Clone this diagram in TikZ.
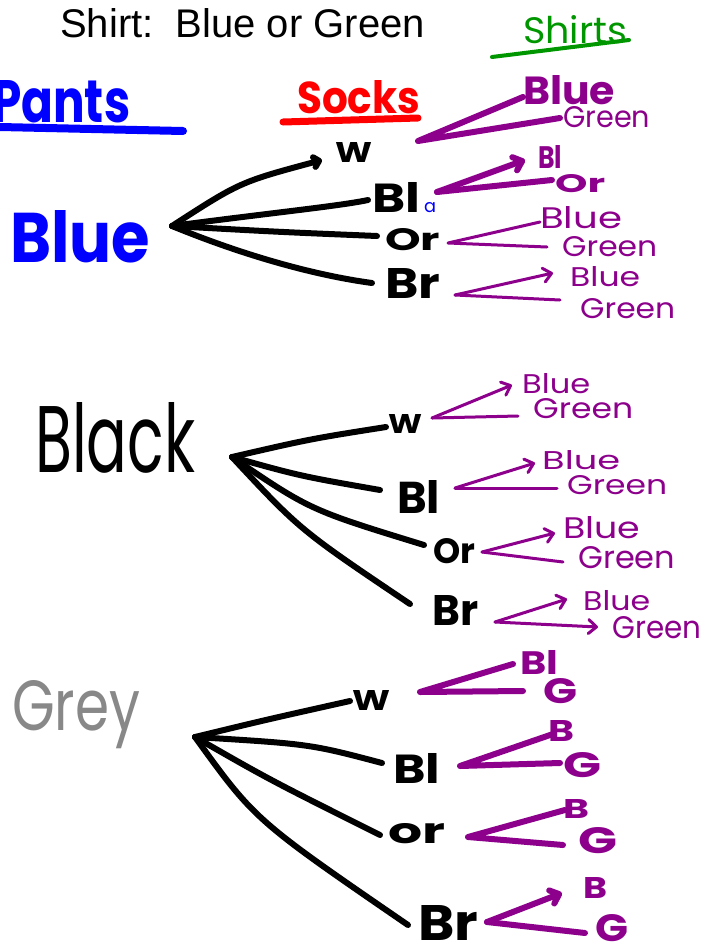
\documentclass[tikz,border=0pt]{standalone}
\usepackage{fontspec}
\usepackage{graphicx}
\usetikzlibrary{arrows.meta}
\newfontfamily\handfont{Poppins}
\newfontfamily\printfont{Liberation Sans}
\definecolor{pantsblue}{RGB}{0,0,255}
\definecolor{socksred}{RGB}{255,0,0}
\definecolor{shirtgreen}{RGB}{0,150,0}
\definecolor{shirtpurple}{RGB}{140,0,140}
\definecolor{pantsgrey}{RGB}{136,136,136}
% scale a piece of handwriting to a given width and height (in pt)
\newcommand\fitbox[3]{\resizebox{#1pt}{#2pt}{#3}}

\begin{document}
\begin{tikzpicture}[x=1pt,y=-1pt,
  hwbold/.style={inner sep=0pt, anchor=base west, font=\handfont\bfseries},
  hwthin/.style={inner sep=0pt, anchor=base west, font=\handfont},
  branch/.style={line width=6pt, line cap=round, line join=round},
  pthick/.style={shirtpurple, line width=6pt, line cap=round, line join=round},
  pthin/.style={shirtpurple, line width=3pt, line cap=round, line join=round},
  barb/.style={-{Straight Barb[length=8pt,width=14pt,round]}},
  smallbarb/.style={-{Straight Barb[length=5pt,width=10pt,round]}},
  ruleline/.style={line cap=round}
]
\useasboundingbox[fill=white] (0,0) rectangle (701,951);

% ---------- headings ----------
\node[inner sep=0pt, anchor=base west, font=\printfont\fontsize{40}{40}\selectfont] (title) at (60,37) {Shirt:\ \ Blue or Green};

\node[hwthin, text=shirtgreen] (hShirts) at (523,43) {\fitbox{104}{28}{Shirts}};
\coordinate (gA) at (492,57); \coordinate (gB) at (629,40);
\draw[ruleline, shirtgreen, line width=4pt] (gA) -- (gB);

\node[hwbold, text=pantsblue] (hPants) at (-8,122) {\fitbox{138}{42}{Pants}};
\coordinate (bA) at (0,127); \coordinate (bB) at (183,131);
\draw[ruleline, pantsblue, line width=8pt] (bA) -- (bB);

\node[hwbold, text=socksred] (hSocks) at (297,113) {\fitbox{123}{33}{Socks}};
\coordinate (rA) at (283,122); \coordinate (rB) at (418,118);
\draw[ruleline, socksred, line width=7pt] (rA) -- (rB);

% ---------- pants ----------
\node[hwbold, text=pantsblue] (pBlue) at (10,262) {\fitbox{140}{52}{Blue}};
\node[hwthin] (pBlack) at (35,472) {\fitbox{160}{70}{Black}};
\node[hwthin, text=pantsgrey] (pGrey) at (12,730) {\fitbox{128}{50}{Grey}};

% ---------- socks, first tree ----------
\coordinate (r1) at (172,226);
\node[hwbold] (s1W) at (335,162) {\fitbox{37}{20}{W}};
\node[hwbold] (s1Bl) at (372,212) {\fitbox{48}{30}{Bl}};
\node[hwthin, text=pantsblue] (s1a) at (424,212) {\fitbox{12}{10}{a}};
\node[hwbold] (s1Or) at (385,250) {\fitbox{55}{22}{Or}};
\node[hwbold] (s1Br) at (385,298) {\fitbox{55}{30}{Br}};
\coordinate (e1W) at (322,160);
\coordinate (e1Bl) at (368,200);
\coordinate (e1Or) at (377,236);
\coordinate (e1Br) at (372,283);
\draw[branch, smallbarb] (r1) .. controls (240,182) .. (e1W);
\draw[branch] (r1) .. controls (270,213) and (340,206) .. (e1Bl);
\draw[branch] (r1) .. controls (280,232) .. (e1Or);
\draw[branch] (r1) .. controls (250,258) and (320,276) .. (e1Br);

% ---------- socks, second tree ----------
\coordinate (r2) at (232,457);
\node[hwbold] (s2W) at (388,433) {\fitbox{34}{19}{W}};
\node[hwbold] (s2Bl) at (397,513) {\fitbox{43}{33}{Bl}};
\node[hwbold] (s2Or) at (433,563) {\fitbox{42}{25}{Or}};
\node[hwbold] (s2Br) at (432,625) {\fitbox{46}{30}{Br}};
\coordinate (e2W) at (386,427);
\coordinate (e2Bl) at (380,490);
\coordinate (e2Or) at (424,545);
\coordinate (e2Br) at (410,604);
\draw[branch] (r2) .. controls (310,439) .. (e2W);
\draw[branch] (r2) .. controls (300,476) .. (e2Bl);
\draw[branch] (r2) .. controls (310,510) .. (e2Or);
\draw[branch] (r2) .. controls (300,530) .. (e2Br);

% ---------- socks, third tree ----------
\coordinate (r3) at (195,737);
\node[hwbold] (s3W) at (352,710) {\fitbox{38}{20}{W}};
\node[hwbold] (s3Bl) at (393,783) {\fitbox{47}{30}{Bl}};
\node[hwbold] (s3or) at (388,843) {\fitbox{57}{20}{or}};
\node[hwbold] (s3Br) at (418,940) {\fitbox{60}{35}{Br}};
\coordinate (e3W) at (350,701);
\coordinate (e3Bl) at (382,763);
\coordinate (e3Or) at (380,835);
\coordinate (e3Br) at (408,925);
\draw[branch] (r3) .. controls (265,720) .. (e3W);
\draw[branch] (r3) .. controls (310,744) .. (e3Bl);
\draw[branch] (r3) .. controls (270,780) .. (e3Or);
\draw[branch] (r3) .. controls (255,820) .. (e3Br);

% ---------- shirts, first tree ----------
\node[hwbold, text=shirtpurple] (t1WB) at (523,104) {\fitbox{92}{29}{Blue}};
\node[hwthin, text=shirtpurple] (t1WG) at (563,127) {\fitbox{87}{21}{Green}};
\coordinate (f1W) at (418,141); \coordinate (u1W) at (523,97); \coordinate (d1W) at (560,118);
\draw[pthick] (u1W) -- (f1W) -- (d1W);

\node[hwbold, text=shirtpurple] (t1BlB) at (538,168) {\fitbox{24}{23}{Bl}};
\node[hwbold, text=shirtpurple] (t1BlG) at (555,192) {\fitbox{50}{18}{Or}};
\coordinate (f1Bl) at (437,192); \coordinate (u1Bl) at (525,160); \coordinate (d1Bl) at (552,180);
\draw[pthick, barb] (f1Bl) -- (u1Bl);
\draw[pthick] (f1Bl) -- (d1Bl);

\node[hwthin, text=shirtpurple] (t1OrB) at (540,228) {\fitbox{82}{22}{Blue}};
\node[hwthin, text=shirtpurple] (t1OrG) at (562,256) {\fitbox{95}{20}{Green}};
\coordinate (f1Or) at (448,243); \coordinate (u1Or) at (540,222); \coordinate (d1Or) at (547,247);
\draw[pthin] (u1Or) -- (f1Or) -- (d1Or);

\node[hwthin, text=shirtpurple] (t1BrB) at (570,286) {\fitbox{70}{20}{Blue}};
\node[hwthin, text=shirtpurple] (t1BrG) at (580,318) {\fitbox{95}{20}{Green}};
\coordinate (f1Br) at (455,295); \coordinate (u1Br) at (553,273); \coordinate (d1Br) at (560,300);
\draw[pthin, barb] (f1Br) -- (u1Br);
\draw[pthin] (f1Br) -- (d1Br);

% ---------- shirts, second tree ----------
\node[hwthin, text=shirtpurple] (t2WB) at (522,393) {\fitbox{68}{20}{Blue}};
\node[hwthin, text=shirtpurple] (t2WG) at (533,418) {\fitbox{100}{20}{Green}};
\coordinate (f2W) at (432,418); \coordinate (u2W) at (512,385); \coordinate (d2W) at (518,416);
\draw[pthin, barb] (f2W) -- (u2W);
\draw[pthin] (f2W) -- (d2W);

\node[hwthin, text=shirtpurple] (t2BlB) at (542,469) {\fitbox{78}{19}{Blue}};
\node[hwthin, text=shirtpurple] (t2BlG) at (567,494) {\fitbox{100}{19}{Green}};
\coordinate (f2Bl) at (455,488); \coordinate (u2Bl) at (535,463); \coordinate (d2Bl) at (557,488);
\draw[pthin, barb] (f2Bl) -- (u2Bl);
\draw[pthin] (f2Bl) -- (d2Bl);

\node[hwthin, text=shirtpurple] (t2OrB) at (563,538) {\fitbox{77}{22}{Blue}};
\node[hwthin, text=shirtpurple] (t2OrG) at (578,568) {\fitbox{97}{22}{Green}};
\coordinate (f2Or) at (482,552); \coordinate (u2Or) at (555,533); \coordinate (d2Or) at (563,562);
\draw[pthin, barb] (f2Or) -- (u2Or);
\draw[pthin] (f2Or) -- (d2Or);

\node[hwthin, text=shirtpurple] (t2BrB) at (583,610) {\fitbox{67}{20}{Blue}};
\node[hwthin, text=shirtpurple] (t2BrG) at (612,638) {\fitbox{89}{22}{Green}};
\coordinate (f2Br) at (495,622); \coordinate (u2Br) at (567,599); \coordinate (d2Br) at (598,627);
\draw[pthin, barb] (f2Br) -- (u2Br);
\draw[pthin, barb] (f2Br) -- (d2Br);

% ---------- shirts, third tree ----------
\node[hwbold, text=shirtpurple] (t3WB) at (520,674) {\fitbox{38}{24}{Bl}};
\node[hwbold, text=shirtpurple] (t3WG) at (543,703) {\fitbox{34}{25}{G}};
\coordinate (f3W) at (420,692); \coordinate (u3W) at (513,664); \coordinate (d3W) at (523,691);
\draw[pthick] (u3W) -- (f3W) -- (d3W);

\node[hwbold, text=shirtpurple] (t3BlB) at (548,741) {\fitbox{26}{21}{B}};
\node[hwbold, text=shirtpurple] (t3BlG) at (563,777) {\fitbox{38}{25}{G}};
\coordinate (f3Bl) at (460,766); \coordinate (u3Bl) at (553,734); \coordinate (d3Bl) at (560,763);
\draw[pthick] (u3Bl) -- (f3Bl) -- (d3Bl);

\node[hwbold, text=shirtpurple] (t3OrB) at (563,818) {\fitbox{26}{19}{B}};
\node[hwbold, text=shirtpurple] (t3OrG) at (578,853) {\fitbox{39}{26}{G}};
\coordinate (f3Or) at (468,837); \coordinate (u3Or) at (565,810); \coordinate (d3Or) at (563,845);
\draw[pthick] (u3Or) -- (f3Or) -- (d3Or);

\node[hwbold, text=shirtpurple] (t3BrB) at (583,898) {\fitbox{24}{21}{B}};
\node[hwbold, text=shirtpurple] (t3BrG) at (595,941) {\fitbox{33}{27}{G}};
\coordinate (f3Br) at (487,922); \coordinate (u3Br) at (562,893); \coordinate (d3Br) at (585,933);
\draw[pthick, barb] (f3Br) -- (u3Br);
\draw[pthick] (f3Br) -- (d3Br);
\end{tikzpicture}
\end{document}
